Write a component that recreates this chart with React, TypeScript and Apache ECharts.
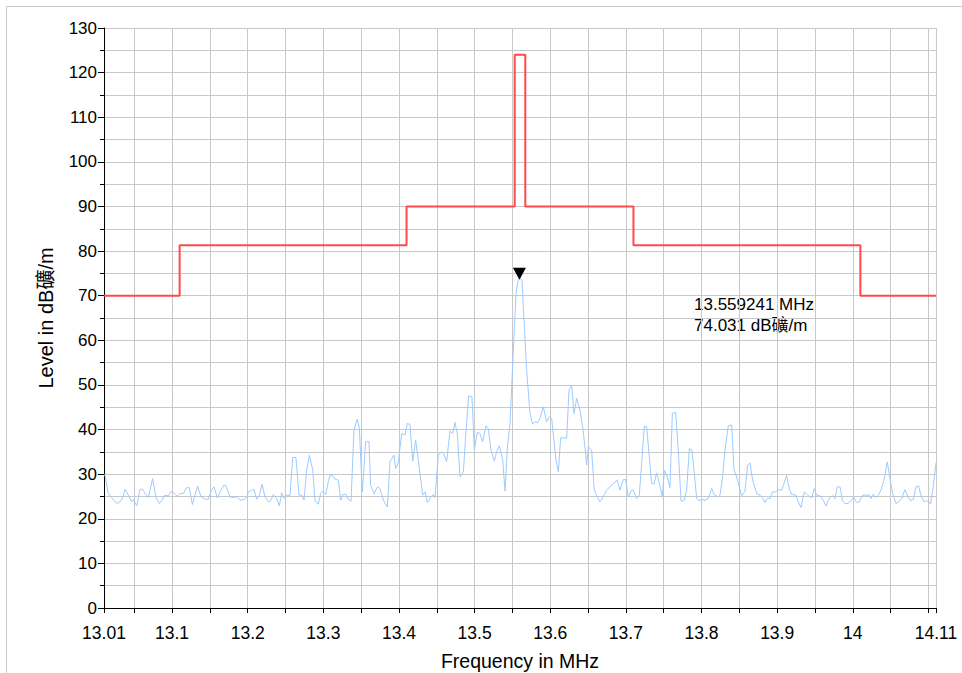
import React, { useEffect, useRef } from "react";
import * as echarts from "echarts";

const FONT = "'Liberation Sans', Arial, 'Noto Sans CJK SC', sans-serif";

// Axis ticks / labels
const xLabelValues = [13.01, 13.1, 13.2, 13.3, 13.4, 13.5, 13.6, 13.7, 13.8, 13.9, 14, 14.11];
const xGridValues = [
  13.01, 13.05, 13.1, 13.15, 13.2, 13.25, 13.3, 13.35, 13.4, 13.45, 13.5, 13.55,
  13.6, 13.65, 13.7, 13.75, 13.8, 13.85, 13.9, 13.95, 14, 14.05, 14.1, 14.11,
];

// Limit line (step): boundaries in MHz and levels in dBµV/m
const limitFreq = [13.01, 13.11, 13.41, 13.553, 13.567, 13.71, 14.01, 14.11];
const limitLevel = [70, 81.3, 90, 124, 90, 81.3, 70];

// Peak marker
const peakFreq = 13.559241;
const peakLevel = 74.031;

// Measured spectrum [MHz, dB]
const noise: [number, number][] = [
  [13.01, 29.92], [13.0113, 29.77], [13.0157, 25.66], [13.0201, 24.75], [13.0267, 23.41],
  [13.0312, 23.79], [13.0347, 24.75], [13.0378, 26.56], [13.0422, 25.29], [13.0466, 23.79],
  [13.0488, 24.31], [13.0532, 22.89], [13.0576, 26.56], [13.0611, 26.63], [13.0642, 25.66],
  [13.0686, 24.75], [13.0743, 29.02], [13.0787, 24.75], [13.0832, 23.41], [13.0862, 24.01],
  [13.0906, 25.29], [13.0951, 25.14], [13.0995, 26.26], [13.1039, 25.51], [13.1069, 25.06],
  [13.1105, 25.66], [13.1149, 25.66], [13.1193, 26.93], [13.1228, 27.01], [13.1268, 23.19],
  [13.1303, 25.29], [13.1338, 27.31], [13.1382, 24.91], [13.1435, 24.38], [13.1479, 24.38],
  [13.1523, 26.56], [13.1554, 27.16], [13.1598, 24.69], [13.1642, 26.26], [13.1686, 27.57],
  [13.1713, 27.38], [13.1766, 24.91], [13.181, 24.75], [13.1854, 24.91], [13.1898, 24.16],
  [13.1951, 24.31], [13.1986, 24.75], [13.2008, 26.04], [13.2052, 26.41], [13.2083, 26.56],
  [13.2118, 24.38], [13.2154, 25.29], [13.2189, 27.72], [13.2229, 24.91], [13.2273, 23.79],
  [13.2304, 24.01], [13.2339, 25.44], [13.2383, 24.54], [13.2418, 22.89], [13.2449, 25.81],
  [13.2484, 24.54], [13.2515, 25.29], [13.2559, 25.21], [13.2594, 33.74], [13.2638, 33.74],
  [13.2678, 25.29], [13.2713, 25.29], [13.2744, 24.16], [13.2779, 30.75], [13.2815, 34.19],
  [13.2859, 31.05], [13.289, 24.01], [13.2934, 23.27], [13.2964, 25.66], [13.2991, 26.26],
  [13.3031, 25.44], [13.3066, 28.28], [13.3088, 29.77], [13.3123, 29.62], [13.3154, 28.88],
  [13.3198, 28.65], [13.3229, 24.16], [13.3255, 25.44], [13.3299, 25.44], [13.333, 24.38],
  [13.3366, 23.94], [13.3405, 39.87], [13.3449, 42.34], [13.3476, 40.24], [13.3515, 26.04],
  [13.3559, 37.25], [13.3603, 37.25], [13.3625, 27.53], [13.367, 25.66], [13.3714, 27.16],
  [13.3749, 26.78], [13.3784, 24.69], [13.3815, 23.41], [13.3846, 22.67], [13.3881, 32.76],
  [13.3934, 34.25], [13.3956, 31.26], [13.3991, 32.53], [13.4035, 39.12], [13.4079, 38.75],
  [13.411, 41.37], [13.4145, 41.14], [13.4181, 32.91], [13.422, 37.63], [13.4256, 33.14],
  [13.4313, 25.29], [13.4344, 26.04], [13.4375, 23.64], [13.4419, 24.76], [13.4454, 25.44],
  [13.4476, 24.76], [13.452, 34.25], [13.4564, 35.0], [13.4595, 34.48], [13.463, 32.76],
  [13.4674, 39.64], [13.471, 39.12], [13.474, 41.58], [13.4771, 39.12], [13.4807, 29.4],
  [13.4851, 30.52], [13.4886, 39.64], [13.4921, 47.57], [13.4965, 47.35], [13.4996, 35.53],
  [13.5036, 39.35], [13.5071, 39.12], [13.5106, 37.25], [13.515, 40.84], [13.5181, 40.24],
  [13.5216, 35.38], [13.526, 32.91], [13.5291, 35.0], [13.5327, 36.35], [13.5371, 33.14],
  [13.5402, 26.19], [13.5432, 35.68], [13.5468, 41.36], [13.5512, 57.81], [13.5547, 70.53],
  [13.5578, 73.67], [13.559241, 74.031], [13.5626, 73.52], [13.5653, 64.55], [13.5688, 53.33],
  [13.5732, 43.61], [13.5767, 41.22], [13.5798, 41.74], [13.5829, 41.52], [13.5864, 42.49],
  [13.5908, 45.11], [13.5952, 41.74], [13.5988, 42.86], [13.6018, 42.49], [13.6049, 37.63],
  [13.6076, 33.14], [13.6107, 30.53], [13.6137, 38.15], [13.6195, 38.15], [13.6217, 38.0],
  [13.6248, 48.84], [13.6283, 49.97], [13.6314, 43.61], [13.6349, 46.98], [13.6393, 44.36],
  [13.6428, 40.62], [13.6459, 36.13], [13.6481, 32.02], [13.6503, 36.13], [13.6547, 35.38],
  [13.6582, 26.41], [13.6613, 25.29], [13.6657, 23.79], [13.6701, 24.91], [13.6745, 26.41],
  [13.6812, 27.53], [13.6856, 28.28], [13.6887, 28.65], [13.6922, 26.41], [13.6966, 28.8],
  [13.6997, 28.8], [13.7032, 24.91], [13.7076, 26.41], [13.7098, 26.41], [13.7142, 24.54],
  [13.7177, 25.29], [13.7208, 32.39], [13.7244, 40.77], [13.7274, 40.62], [13.731, 33.89],
  [13.734, 27.91], [13.7371, 27.76], [13.7407, 30.3], [13.7442, 27.91], [13.7482, 24.91],
  [13.7508, 30.9], [13.7548, 29.4], [13.7583, 27.01], [13.7614, 43.61], [13.7658, 43.83],
  [13.7693, 35.38], [13.7729, 24.01], [13.7768, 24.01], [13.7803, 26.41], [13.7839, 35.76],
  [13.7874, 35.38], [13.7905, 30.14], [13.7936, 24.54], [13.7966, 24.01], [13.8002, 24.31],
  [13.8046, 24.16], [13.809, 24.54], [13.8134, 26.78], [13.817, 25.29], [13.8222, 24.91],
  [13.8244, 25.29], [13.8279, 29.4], [13.831, 35.38], [13.8354, 40.84], [13.8398, 40.99],
  [13.8429, 31.05], [13.8464, 29.4], [13.8499, 27.16], [13.853, 25.14], [13.8574, 26.19],
  [13.861, 32.02], [13.864, 32.54], [13.8676, 28.65], [13.8729, 25.66], [13.8773, 25.29],
  [13.8803, 24.76], [13.8839, 23.64], [13.887, 24.54], [13.8905, 24.54], [13.894, 26.04],
  [13.8984, 26.04], [13.9015, 26.56], [13.9059, 26.41], [13.909, 27.91], [13.9125, 29.77],
  [13.916, 26.78], [13.9191, 25.44], [13.9249, 25.29], [13.9279, 23.79], [13.9315, 22.52],
  [13.9359, 26.04], [13.9403, 25.29], [13.9456, 24.69], [13.9491, 26.78], [13.9522, 25.29],
  [13.9566, 25.14], [13.961, 24.16], [13.9645, 22.89], [13.9676, 24.16], [13.9707, 24.91],
  [13.9742, 25.14], [13.9764, 24.54], [13.9795, 27.16], [13.983, 27.16], [13.9865, 24.01],
  [13.9896, 23.41], [13.994, 23.41], [13.9985, 24.31], [14.0015, 24.76], [14.0051, 23.64],
  [14.0086, 23.79], [14.013, 25.29], [14.0174, 25.29], [14.0218, 25.29], [14.024, 24.54],
  [14.0271, 25.51], [14.0306, 24.76], [14.0337, 25.29], [14.0372, 26.41], [14.0412, 28.65],
  [14.0456, 32.76], [14.0491, 29.02], [14.0527, 25.66], [14.0571, 23.41], [14.0615, 23.94],
  [14.0646, 24.54], [14.069, 26.56], [14.0725, 25.06], [14.0765, 24.01], [14.08, 24.38],
  [14.0835, 27.16], [14.087, 27.31], [14.0901, 25.29], [14.0941, 23.79], [14.0976, 24.01],
  [14.1011, 23.79], [14.1029, 23.27], [14.1064, 27.31], [14.11, 32.54],
];

const X_TITLE = "Frequency in MHz";
const Y_TITLE = "Level in dB礦/m";
const UNIT = "dB礦/m";

export default function App() {
  const ref = useRef<HTMLDivElement>(null);
  useEffect(() => {
    if (!ref.current) return;
    const chart = echarts.init(ref.current, undefined, { renderer: "svg" });

    const stepData: [number, number][] = [];
    for (let i = 0; i < limitLevel.length; i++) {
      stepData.push([limitFreq[i], limitLevel[i]]);
      stepData.push([limitFreq[i + 1], limitLevel[i]]);
    }

    const gridColor = "#c8c8c8";
    chart.setOption({
      animation: false,
      backgroundColor: "#ffffff",
      textStyle: { fontFamily: FONT },
      grid: {
        left: 104,
        right: 26,
        top: 28,
        bottom: 65,
        containLabel: false,
        outerBoundsMode: "none",
      },
      xAxis: {
        type: "value",
        min: 13.01,
        max: 14.11,
        name: X_TITLE,
        nameLocation: "middle",
        nameGap: 43,
        nameTextStyle: { fontSize: 19.5, color: "#000", fontFamily: FONT },
        axisLine: { show: true, lineStyle: { color: "#000", width: 1 } },
        axisTick: { show: true, length: 5, customValues: xGridValues, lineStyle: { color: "#000" } },
        axisLabel: {
          customValues: xLabelValues,
          fontSize: 17.5,
          color: "#000",
          margin: 16,
          fontFamily: FONT,
          formatter: (v: number) => String(+Number(v).toFixed(2)),
        },
        splitLine: { show: true, lineStyle: { color: gridColor, width: 1 } },
      },
      yAxis: {
        type: "value",
        min: 0,
        max: 130,
        interval: 10,
        name: Y_TITLE,
        nameLocation: "middle",
        nameGap: 48,
        nameRotate: 90,
        nameTextStyle: { fontSize: 20, color: "#000", fontFamily: FONT },
        axisLine: { show: true, lineStyle: { color: "#000", width: 1 } },
        axisTick: { show: true, length: 6, lineStyle: { color: "#000" } },
        minorTick: { show: true, splitNumber: 2, length: 4, lineStyle: { color: "#000" } },
        axisLabel: {
          fontSize: 17,
          color: "#000",
          margin: 7,
          fontFamily: FONT,
          padding: [6, 0, 0, 0],
        },
        splitLine: { show: true, lineStyle: { color: gridColor, width: 1 } },
        minorSplitLine: { show: true, lineStyle: { color: gridColor, width: 1 } },
      },
      series: [
        {
          name: "Spectrum",
          type: "line",
          data: noise,
          symbol: "none",
          lineStyle: { color: "#9ccbff", width: 1 },
          z: 2,
          markPoint: {
            symbol: "path://M0,0 L12,0 L6,11 Z",
            symbolSize: [13, 12],
            symbolOffset: [0, -4],
            itemStyle: { color: "#000" },
            label: { show: false },
            data: [{ coord: [peakFreq, peakLevel] }],
          },
        },
        {
          name: "Limit",
          type: "line",
          data: stepData,
          symbol: "none",
          lineStyle: { color: "#ff4a4a", width: 2 },
          z: 3,
        },
      ],
      graphic: [
        {
          type: "rect",
          shape: { x: 6.5, y: 6.5, width: 1000, height: 1000 },
          style: { fill: "none", stroke: "#c8c8c8", lineWidth: 1 },
          silent: true,
        },
        {
          type: "text",
          left: 694,
          top: 294,
          style: {
            text: `${peakFreq} MHz\n${peakLevel.toFixed(3)} ${UNIT}`,
            font: `17px ${FONT}`,
            fill: "#000",
            lineHeight: 21,
          },
        },
      ],
    });
    return () => chart.dispose();
  }, []);
  return (
    <div
      ref={ref}
      style={{ position: "fixed", left: 0, top: 0, width: 962, height: 673 }}
    />
  );
}
